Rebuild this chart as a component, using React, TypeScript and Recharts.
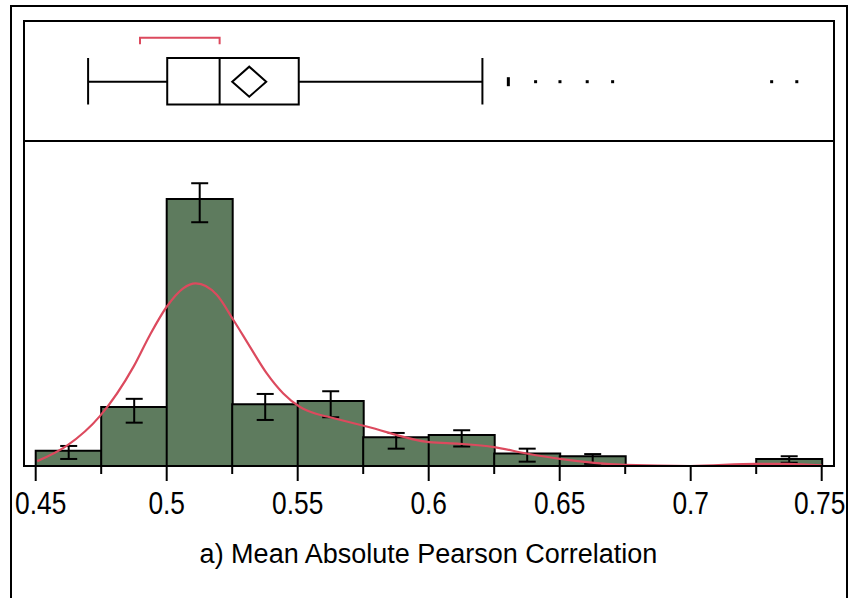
import {
  ComposedChart,
  Bar,
  ErrorBar,
  Line,
  Scatter,
  XAxis,
  YAxis,
  ReferenceArea,
  ReferenceLine,
} from "recharts";

// histogram bins (percent of runs)
const binLabels = [
  "0.45-0.475", "0.475-0.5", "0.5-0.525", "0.525-0.55", "0.55-0.575", "0.575-0.6",
  "0.6-0.625", "0.625-0.65", "0.65-0.675", "0.675-0.7", "0.7-0.725", "0.725-0.75",
];
const binPercent = [2.8, 10.9, 49.3, 11.4, 12.0, 5.3, 5.7, 2.3, 1.8, 0, 0, 1.3];
const binLow = [1.3, 8.0, 45.0, 8.5, 9.0, 3.2, 3.6, 0.8, 0.4, null, null, 0.6];
const binHigh = [3.7, 12.4, 52.2, 13.3, 13.8, 6.1, 6.6, 3.2, 2.2, null, null, 1.8];

// kernel density curve
const densityX = [
  0.4506, 0.4618, 0.4745, 0.4873, 0.4936, 0.5, 0.5063, 0.5111, 0.5191, 0.5254,
  0.5318, 0.5382, 0.5445, 0.5509, 0.5573, 0.5623, 0.5763, 0.6002, 0.6119, 0.6249,
  0.6374, 0.6501, 0.6749, 0.7, 0.7252, 0.7366, 0.75,
];
const densityY = [
  0.9, 3.7, 9.2, 18.3, 24.2, 29.4, 32.8, 33.7, 31.6, 27.0,
  22.0, 17.1, 13.4, 10.9, 9.6, 9.0, 7.3, 4.4, 4.1, 3.5,
  2.3, 1.3, 0.2, 0, 0.4, 0.4, 0.1,
];

// box plot summary
const whiskerLow = 0.47;
const q1 = 0.5002;
const median = 0.5202;
const mean = 0.5315;
const q3 = 0.5504;
const whiskerHigh = 0.6205;
const medianCI = [0.4898, 0.5202];
const outliers = [0.6304, 0.6408, 0.6501, 0.6605, 0.6702, 0.7309, 0.7405];
const outlierCount = [3, 1, 1, 1, 1, 1, 1];

const xTicks = [
  0.45, 0.475, 0.5, 0.525, 0.55, 0.575, 0.6, 0.625, 0.65, 0.675, 0.7, 0.725, 0.75,
];

// layout: y units are px / PX_PER_UNIT above the baseline
const PX_PER_UNIT = 5.417;
const BASE = 466;
const Y_MAX = (BASE - 21) / PX_PER_UNIT;
const yAt = (px: number) => (BASE - px) / PX_PER_UNIT;
const BOX_TOP = yAt(58);
const BOX_BOT = yAt(104.5);
const BOX_MID = yAt(81.7);
const BR_TOP = yAt(37.7);
const BR_END = yAt(44.3);

const RED = "#DC4A5E";
const GREEN = "#5E7B5E";
const FONT = "'Liberation Sans', Arial, sans-serif";

const bins = binLabels.map((bin, i) => ({
  bin,
  pct: binPercent[i],
  err: binLow[i] == null ? null : [binPercent[i] - (binLow[i] as number), (binHigh[i] as number) - binPercent[i]],
}));
const density = densityX.map((x, i) => ({ x, y: densityY[i] }));
const bracket = [
  { x: medianCI[0], y: BR_END },
  { x: medianCI[0], y: BR_TOP },
  { x: medianCI[1], y: BR_TOP },
  { x: medianCI[1], y: BR_END },
];
const meanPoint = [{ x: mean, y: BOX_MID }];
const outlierPoints = outliers.map((x, i) => ({ x, y: BOX_MID, n: outlierCount[i] }));

function AxisTick(props: any) {
  const { x, y, payload, index } = props;
  const v = payload.value as number;
  const major = Math.round(v * 1000) % 50 === 0;
  // end labels are nudged inwards, as in the original
  const shift = index === 0 ? 5 : index === xTicks.length - 1 ? -2 : 0;
  return (
    <g>
      <line x1={x} x2={x} y1={y} y2={y + (major ? 15 : 8)} stroke="#000" strokeWidth={2} />
      {major && (
        <text
          transform={`translate(${x + shift},${y + 48.3}) scale(0.85,1)`}
          textAnchor="middle"
          fontSize={31}
          fontFamily={FONT}
          fill="#000"
        >
          {String(parseFloat(v.toFixed(3)))}
        </text>
      )}
    </g>
  );
}

function Diamond(props: any) {
  const { cx, cy } = props;
  return (
    <polygon
      points={`${cx - 17},${cy} ${cx},${cy - 15} ${cx + 17},${cy} ${cx},${cy + 15}`}
      fill="none"
      stroke="#000"
      strokeWidth={2}
    />
  );
}

function OutlierMark(props: any) {
  const { cx, cy, payload } = props;
  const h = payload.n > 1 ? 9 : 3;
  return <rect x={cx - 1.5} y={cy - h / 2} width={3} height={h} fill="#000" />;
}

const line = (x1: number, y1: number, x2: number, y2: number, key: string) => (
  <ReferenceLine
    key={key}
    xAxisId="num"
    segment={[{ x: x1, y: y1 }, { x: x2, y: y2 }]}
    stroke="#000"
    strokeWidth={2}
  />
);

export default function App() {
  return (
    <div style={{ position: "absolute", left: 0, top: 0, width: 849, height: 598, background: "#fff", overflow: "hidden" }}>
      <ComposedChart
        width={849}
        height={598}
        data={bins}
        barCategoryGap={0}
        margin={{ top: 21, right: 27.3, bottom: 72, left: 35.7 }}
      >
        <XAxis
          xAxisId="num"
          dataKey="x"
          type="number"
          domain={[0.45, 0.75]}
          ticks={xTicks}
          allowDataOverflow
          axisLine={false}
          tickLine={false}
          tickSize={0}
          tickMargin={0}
          height={60}
          interval={0}
          tick={<AxisTick />}
        />
        <XAxis xAxisId="bin" dataKey="bin" type="category" height={0} hide />
        <YAxis type="number" domain={[0, Y_MAX]} allowDataOverflow hide />

        <Bar xAxisId="bin" dataKey="pct" fill={GREEN} stroke="#000" strokeWidth={2} isAnimationActive={false}>
          <ErrorBar dataKey="err" width={8.5} stroke="#000" strokeWidth={2} direction="y" />
        </Bar>
        <Line
          xAxisId="num"
          data={density}
          dataKey="y"
          type="monotone"
          stroke={RED}
          strokeWidth={2.2}
          dot={false}
          activeDot={false}
          isAnimationActive={false}
        />

        {/* box plot panel */}
        <ReferenceArea
          xAxisId="num"
          x1={q1}
          x2={q3}
          y1={BOX_BOT}
          y2={BOX_TOP}
          fill="none"
          fillOpacity={0}
          stroke="#000"
          strokeWidth={2}
        />
        {line(median, BOX_BOT, median, BOX_TOP, "med")}
        {line(whiskerLow, BOX_MID, q1, BOX_MID, "wl")}
        {line(q3, BOX_MID, whiskerHigh, BOX_MID, "wh")}
        {line(whiskerLow, BOX_BOT, whiskerLow, BOX_TOP, "capl")}
        {line(whiskerHigh, BOX_BOT, whiskerHigh, BOX_TOP, "caph")}
        <Line
          xAxisId="num"
          data={bracket}
          dataKey="y"
          type="linear"
          stroke={RED}
          strokeWidth={2}
          dot={false}
          activeDot={false}
          isAnimationActive={false}
        />
        <Scatter xAxisId="num" data={meanPoint} dataKey="y" shape={<Diamond />} isAnimationActive={false} />
        <Scatter xAxisId="num" data={outlierPoints} dataKey="y" shape={<OutlierMark />} isAnimationActive={false} />
      </ComposedChart>

      {/* frames */}
      <div style={{ position: "absolute", left: 10, top: 5, width: 838, height: 620, border: "2px solid #000", boxSizing: "border-box", pointerEvents: "none" }} />
      <div style={{ position: "absolute", left: 23, top: 20, width: 811.5, height: 447, border: "2px solid #000", boxSizing: "border-box", pointerEvents: "none" }} />
      <div style={{ position: "absolute", left: 23, top: 140, width: 811.5, height: 2, background: "#000", pointerEvents: "none" }} />

      <div
        style={{
          position: "absolute",
          left: 4,
          top: 541,
          width: 849,
          textAlign: "center",
          fontFamily: FONT,
          fontSize: 27,
          lineHeight: "27px",
          color: "#000",
        }}
      >
        a) Mean Absolute Pearson Correlation
      </div>
    </div>
  );
}
